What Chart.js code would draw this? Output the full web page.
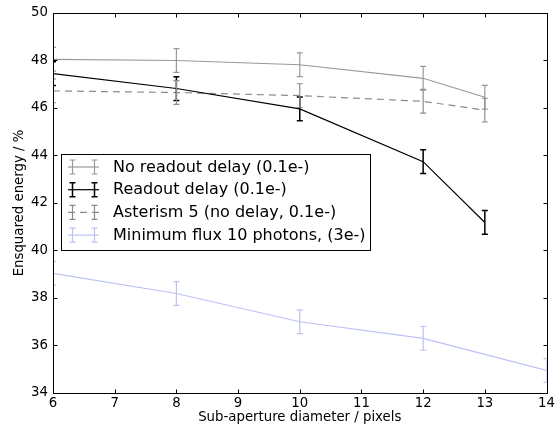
<!DOCTYPE html>
<html><head><meta charset="utf-8">
<script src="https://cdn.jsdelivr.net/npm/chart.js@4/dist/chart.umd.min.js"></script>
<style>html,body{margin:0;padding:0;background:#fff}#wrap{width:558px;height:434px}</style>
</head><body><div id="wrap"><canvas id="c" width="558" height="434"></canvas></div>
<script>
// ---- data ----
const xMain = [6, 8, 10, 12, 13];
const xFlux = [6, 8, 10, 12, 14];
const noDelay = [48.05, 48.0, 47.82, 47.25, 46.45];
const noDelayErr = [0.5, 0.5, 0.5, 0.5, 0.5];
const readoutDelay = [47.45, 46.82, 45.96, 43.74, 41.18];
const readoutDelayErr = [0.5, 0.5, 0.5, 0.5, 0.5];
const asterism5 = [46.72, 46.65, 46.52, 46.28, 45.91];
const asterism5Err = [0.5, 0.5, 0.5, 0.5, 0.5];
const minFlux = [39.04, 38.19, 37.0, 36.3, 34.95];
const minFluxErr = [0.5, 0.5, 0.5, 0.5, 0.5];
const xTicks = [6, 7, 8, 9, 10, 11, 12, 13, 14];
const yTicks = [34, 36, 38, 40, 42, 44, 46, 48, 50];
const seriesLabels = ['No readout delay (0.1e-)', 'Readout delay (0.1e-)', 'Asterism 5 (no delay, 0.1e-)', 'Minimum flux 10 photons, (3e-)'];
const xTitle = 'Sub-aperture diameter / pixels';
const yTitle = 'Ensquared energy / %';

const FONT = 'DejaVu Sans';
const pts = (xs, ys) => xs.map((x, i) => ({x: x, y: ys[i]}));

const styles = [
  {color: '#999999', width: 1.2, dash: [], errWidth: 1.2},
  {color: '#000000', width: 1.2, dash: [], errWidth: 1.5},
  {color: '#8c8c8c', width: 1.2, dash: [7, 5], errWidth: 1.2},
  {color: '#bcc2f4', width: 1.2, dash: [], errWidth: 1.2}
];
const dataSets = [
  {xs: xMain, ys: noDelay, err: noDelayErr},
  {xs: xMain, ys: readoutDelay, err: readoutDelayErr},
  {xs: xMain, ys: asterism5, err: asterism5Err},
  {xs: xFlux, ys: minFlux, err: minFluxErr}
];

const errorBarPlugin = {
  id: 'errorBars',
  afterDatasetsDraw(chart) {
    const {ctx, chartArea: a, scales: {x, y}} = chart;
    ctx.save();
    ctx.beginPath();
    ctx.rect(a.left, a.top, a.right - a.left, a.bottom - a.top);
    ctx.clip();
    chart.data.datasets.forEach((ds) => {
      ctx.strokeStyle = ds.borderColor;
      ctx.lineWidth = ds.errWidth;
      ctx.setLineDash([]);
      ds.data.forEach((p, i) => {
        const e = ds.errors[i];
        const px = x.getPixelForValue(p.x);
        const y1 = y.getPixelForValue(p.y + e);
        const y2 = y.getPixelForValue(p.y - e);
        ctx.beginPath();
        ctx.moveTo(px, y1); ctx.lineTo(px, y2);
        ctx.moveTo(px - 3, y1); ctx.lineTo(px + 3, y1);
        ctx.moveTo(px - 3, y2); ctx.lineTo(px + 3, y2);
        ctx.stroke();
      });
    });
    ctx.restore();
  }
};

const framePlugin = {
  id: 'frame',
  afterDraw(chart) {
    const {ctx, chartArea: a, scales: {x, y}} = chart;
    ctx.save();
    ctx.strokeStyle = '#000';
    ctx.lineWidth = 1;
    ctx.setLineDash([]);
    const L = Math.round(a.left) + 0.5, R = Math.round(a.right) + 0.5;
    const T = Math.round(a.top) + 0.5, B = Math.round(a.bottom) + 0.5;
    ctx.beginPath();
    x.ticks.forEach(t => {
      const px = Math.round(x.getPixelForValue(t.value)) + 0.5;
      ctx.moveTo(px, B); ctx.lineTo(px, B - 4);
      ctx.moveTo(px, T); ctx.lineTo(px, T + 4);
    });
    y.ticks.forEach(t => {
      const py = Math.round(y.getPixelForValue(t.value)) + 0.5;
      ctx.moveTo(L, py); ctx.lineTo(L + 4, py);
      ctx.moveTo(R, py); ctx.lineTo(R - 4, py);
    });
    ctx.stroke();
    ctx.strokeRect(L, T, R - L, B - T);

    // legend
    const bx = 61.5, by = 154.5, bw = 309, bh = 96;
    ctx.fillStyle = '#fff';
    ctx.fillRect(bx, by, bw, bh);
    ctx.strokeStyle = '#000';
    ctx.lineWidth = 1;
    ctx.strokeRect(bx, by, bw, bh);
    ctx.font = '16px "' + FONT + '"';
    ctx.textBaseline = 'middle';
    ctx.textAlign = 'left';
    chart.data.datasets.forEach((ds, i) => {
      const ry = 167 + i * 22.7;
      ctx.strokeStyle = ds.borderColor;
      ctx.lineWidth = ds.borderWidth;
      ctx.setLineDash(ds.borderDash || []);
      ctx.beginPath();
      ctx.moveTo(68, ry); ctx.lineTo(99, ry);
      ctx.stroke();
      ctx.setLineDash([]);
      ctx.lineWidth = ds.errWidth;
      ctx.beginPath();
      [72.5, 94.5].forEach(ex => {
        ctx.moveTo(ex, ry - 7); ctx.lineTo(ex, ry + 7);
        ctx.moveTo(ex - 3, ry - 7); ctx.lineTo(ex + 3, ry - 7);
        ctx.moveTo(ex - 3, ry + 7); ctx.lineTo(ex + 3, ry + 7);
      });
      ctx.stroke();
      ctx.fillStyle = '#000';
      ctx.fillText(ds.label, 113, ry + 0.5);
    });
    ctx.restore();
  }
};

const datasets = dataSets.map((d, i) => ({
  label: seriesLabels[i],
  data: pts(d.xs, d.ys),
  errors: d.err,
  borderColor: styles[i].color,
  backgroundColor: styles[i].color,
  borderWidth: styles[i].width,
  borderDash: styles[i].dash,
  errWidth: styles[i].errWidth,
  pointRadius: 0,
  tension: 0,
  fill: false,
  clip: 0
}));

new Chart(document.getElementById('c'), {
  type: 'line',
  data: {datasets: datasets},
  options: {
    responsive: false,
    animation: false,
    devicePixelRatio: 1,
    layout: {padding: {top: 11, right: 10, left: 0, bottom: 0}},
    plugins: {legend: {display: false}, tooltip: {enabled: false}},
    scales: {
      x: {
        type: 'linear', min: 6, max: 14,
        afterBuildTicks: s => { s.ticks = xTicks.map(v => ({value: v})); },
        afterFit: s => { s.height = 41; },
        grid: {display: false, drawTicks: false},
        border: {display: false},
        ticks: {color: '#000', padding: 3, font: {family: FONT, size: 13.3}, maxRotation: 0, autoSkip: false},
        title: {display: true, text: xTitle, color: '#000', font: {family: FONT, size: 13.3}, padding: {top: 0, bottom: 8}}
      },
      y: {
        type: 'linear', min: 34, max: 50,
        afterBuildTicks: s => { s.ticks = yTicks.map(v => ({value: v})); },
        afterFit: s => { s.width = 53; },
        grid: {display: false, drawTicks: false},
        border: {display: false},
        ticks: {color: '#000', padding: 5, font: {family: FONT, size: 13.3}, autoSkip: false},
        title: {display: true, text: yTitle, color: '#000', font: {family: FONT, size: 13.3}, padding: {top: 12, bottom: 0}}
      }
    }
  },
  plugins: [errorBarPlugin, framePlugin]
});
</script>
</body></html>
